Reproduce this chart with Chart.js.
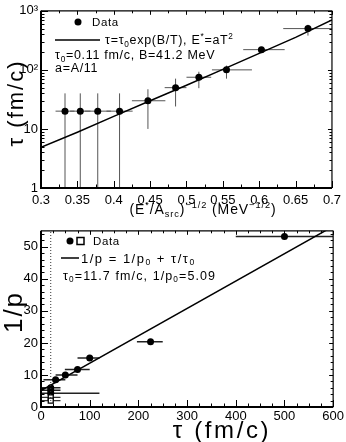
<!DOCTYPE html>
<html>
<head>
<meta charset="utf-8">
<script src="https://cdn.jsdelivr.net/npm/chart.js@4.4.1/dist/chart.umd.min.js"></script>
<style>
  html, body { margin: 0; padding: 0; background: #fff; }
  #wrap { position: relative; width: 346px; height: 442px; }
  #topChart { position: absolute; left: 0; top: 0; }
  #botChart { position: absolute; left: 0; top: 220px; }
</style>
</head>
<body>
<div id="wrap">
  <canvas id="topChart" width="346" height="220"></canvas>
  <canvas id="botChart" width="346" height="222"></canvas>
</div>
<script>
// ---- top panel: tau vs (E*/A)^-1/2 ----
const topX     = [0.333, 0.354, 0.378, 0.408, 0.447, 0.485, 0.517, 0.555, 0.603, 0.667];
const topTau   = [20, 20, 20, 20, 30, 50, 75, 100, 220, 500];
const topXLo   = [0.320, 0.340, 0.360, 0.390, 0.425, 0.470, 0.500, 0.535, 0.578, 0.633];
const topXHi   = [0.346, 0.368, 0.396, 0.426, 0.471, 0.500, 0.534, 0.590, 0.635, 0.700];
const topTauLo = [1, 1, 1, 1, 10, 24, 49, 71, 200, 380];
const topTauHi = [40, 40, 40, 40, 47, 71, 93, 118, 240, 580];
const fitTopX   = [0.30, 0.35, 0.40, 0.45, 0.50, 0.55, 0.60, 0.65, 0.70];
const fitTopTau = [4.9, 8.8, 16.3, 30, 55, 102, 190, 355, 700];
const topXTicks  = [0.3, 0.35, 0.4, 0.45, 0.5, 0.55, 0.6, 0.65, 0.7];
const topYTicks  = [1, 10, 100, 1000];
const topYLabels = ['1', '10', '10²', '10³'];

// ---- bottom panel: 1/p vs tau ----
const botTau    = [500, 225, 100, 75, 50, 30, 20, 20, 20];
const botInvP   = [53.2, 20.4, 15.3, 11.7, 10.0, 8.5, 6.0, 5.2, 4.3];
const botTauLo  = [400, 197, 75, 49, 30, 5, 0, 0, 0];
const botTauHi  = [600, 250, 120, 100, 75, 50, 40, 40, 120];
const openTau   = [20, 20];
const openInvP  = [3.0, 2.0];
const openTauLo = [0, 0];
const openTauHi = [40, 40];
const fitBotTau  = [0, 600];
const fitBotInvP = [5.09, 56.4];
const cutTau = 20;
const botXTicks = [0, 100, 200, 300, 400, 500, 600];
const botYTicks = [0, 10, 20, 30, 40, 50];

const FONT = 'Liberation Sans';

function pts(xs, ys) {
  return xs.map((x, i) => ({ x: x, y: ys[i] }));
}

// text with sub/superscripts, parts = [[text, 'n'|'sub'|'sup'], ...]
function richText(ctx, parts, x, y, size, align, spacing) {
  const sz = p => (p[1] === 'sub' || p[1] === 'sup') ? size * 0.66 : size;
  ctx.letterSpacing = (spacing || 0) + 'px';
  let total = 0;
  parts.forEach(p => {
    ctx.font = sz(p) + 'px "' + FONT + '"';
    total += ctx.measureText(p[0]).width;
  });
  let cx = align === 'center' ? x - total / 2 : x;
  ctx.textAlign = 'left';
  ctx.textBaseline = 'alphabetic';
  ctx.fillStyle = '#000';
  parts.forEach(p => {
    const dy = p[1] === 'sup' ? -size * 0.42 : p[1] === 'sub' ? size * 0.22 : 0;
    ctx.font = sz(p) + 'px "' + FONT + '"';
    ctx.fillText(p[0], cx, y + dy);
    cx += ctx.measureText(p[0]).width;
  });
  ctx.letterSpacing = '0px';
}

// frame with inward ticks on all four sides
const frame = {
  id: 'frame',
  afterDraw(chart, args, o) {
    const { ctx, chartArea: a, scales } = chart;
    ctx.save();
    ctx.strokeStyle = '#000';
    const hline = (x, y0, y1, w) => { ctx.lineWidth = w; ctx.beginPath(); ctx.moveTo(x, y0); ctx.lineTo(x, y1); ctx.stroke(); };
    const vline = (y, x0, x1, w) => { ctx.lineWidth = w; ctx.beginPath(); ctx.moveTo(x0, y); ctx.lineTo(x1, y); ctx.stroke(); };
    o.xMajor.forEach(v => {
      const px = Math.round(scales.x.getPixelForValue(v)) + 0.5;
      hline(px, a.bottom, a.bottom - 7, 1);
      hline(px, a.top, a.top + 4, 1);
    });
    o.xMinor.forEach(v => {
      const px = Math.round(scales.x.getPixelForValue(v)) + 0.5;
      hline(px, a.bottom, a.bottom - 3.5, 1);
      hline(px, a.top, a.top + 2.5, 1);
    });
    o.yMajor.forEach(v => {
      const py = Math.round(scales.y.getPixelForValue(v)) + 0.5;
      vline(py, a.left, a.left + 7, 1);
      vline(py, a.right, a.right - 4, 1);
    });
    o.yMinor.forEach(v => {
      const py = Math.round(scales.y.getPixelForValue(v)) + 0.5;
      vline(py, a.left, a.left + 3.5, 1);
      vline(py, a.right, a.right - 2.5, 1);
    });
    hline(a.left, a.top, a.bottom + 1, 2);
    vline(a.bottom, a.left - 1, a.right, 2);
    hline(a.right, a.top, a.bottom, 1.2);
    vline(a.top, a.left, a.right, 1.2);
    ctx.restore();
  }
};

// x/y error bars from dataset.xLo/xHi/yLo/yHi
const errBars = {
  id: 'errBars',
  beforeDatasetsDraw(chart) {
    const { ctx, chartArea: a, scales: { x, y } } = chart;
    ctx.save();
    ctx.beginPath();
    ctx.rect(a.left, a.top, a.width, a.height);
    ctx.clip();
    chart.data.datasets.forEach(ds => {
      if (!ds.xLo) return;
      ctx.strokeStyle = ds.errColor;
      ctx.lineWidth = ds.errWidth;
      ds.data.forEach((p, i) => {
        const px = x.getPixelForValue(p.x), py = y.getPixelForValue(p.y);
        ctx.beginPath();
        ctx.moveTo(x.getPixelForValue(ds.xLo[i]), py);
        ctx.lineTo(x.getPixelForValue(ds.xHi[i]), py);
        if (ds.yLo) {
          ctx.moveTo(px, y.getPixelForValue(ds.yLo[i]));
          ctx.lineTo(px, y.getPixelForValue(ds.yHi[i]));
        }
        ctx.stroke();
      });
    });
    ctx.restore();
  }
};

// legends and axis titles
const texts = {
  id: 'texts',
  afterDraw(chart, args, o) {
    const ctx = chart.ctx;
    ctx.save();
    o.draw(ctx);
    ctx.restore();
  }
};

function dot(ctx, x, y) {
  ctx.fillStyle = '#000';
  ctx.beginPath();
  ctx.arc(x, y, 3.5, 0, Math.PI * 2);
  ctx.fill();
}

function seg(ctx, x0, x1, y) {
  ctx.strokeStyle = '#000';
  ctx.lineWidth = 1.5;
  ctx.beginPath();
  ctx.moveTo(x0, y);
  ctx.lineTo(x1, y);
  ctx.stroke();
}

function rotated(ctx, parts, cx, cy, size, spacing) {
  ctx.save();
  ctx.translate(cx, cy);
  ctx.rotate(-Math.PI / 2);
  richText(ctx, parts, 0, size * 0.36, size, 'center', spacing);
  ctx.restore();
}

function drawTopTexts(ctx) {
  dot(ctx, 78, 22);
  richText(ctx, [['Data', 'n']], 92, 26, 11.5, 'left', 0.6);
  seg(ctx, 55, 100, 40);
  richText(ctx, [['τ=τ', 'n'], ['0', 'sub'], ['exp(B/T), E', 'n'], ['*', 'sup'], ['=aT', 'n'], ['2', 'sup']], 105, 44, 12.5, 'left', 0.7);
  richText(ctx, [['τ', 'n'], ['0', 'sub'], ['=0.11 fm/c, B=41.2 MeV', 'n']], 55, 59, 12.5, 'left', 0.7);
  richText(ctx, [['a=A/11', 'n']], 55, 72, 12.5, 'left', 0.7);
  richText(ctx, [['(E', 'n'], ['*', 'sup'], ['/A', 'n'], ['src', 'sub'], [')', 'n'], ['−1/2', 'sup'],
                 [' (MeV', 'n'], ['−1/2', 'sup'], [')', 'n']], 203, 214, 14, 'center', 0.9);
  rotated(ctx, [['τ (fm/c)', 'n']], 15, 103, 22, 2);
}

function drawBotTexts(ctx) {
  dot(ctx, 70, 21);
  ctx.strokeStyle = '#000';
  ctx.lineWidth = 1.5;
  ctx.strokeRect(77, 17.5, 7, 7);
  richText(ctx, [['Data', 'n']], 93, 25, 11.5, 'left', 0.6);
  seg(ctx, 61, 79, 38);
  richText(ctx, [['1/p = 1/p', 'n'], ['0', 'sub'], [' + τ/τ', 'n'], ['0', 'sub']], 81, 42.5, 13, 'left', 1.5);
  richText(ctx, [['τ', 'n'], ['0', 'sub'], ['=11.7 fm/c, 1/p', 'n'], ['0', 'sub'], ['=5.09', 'n']], 63, 59.5, 12.5, 'left', 1.1);
  richText(ctx, [['τ (fm/c)', 'n']], 222, 218, 24, 'center', 2.6);
  rotated(ctx, [['1/p', 'n']], 13, 92, 26, 2);
}

const tickFont = { family: FONT, size: 13 };

function fixedAxes(yWidth, xHeight) {
  return {
    yFit: s => { s.width = yWidth; },
    xFit: s => { s.height = xHeight; }
  };
}

// ---------- top chart ----------
const topMinorX = [];
for (let i = 0; i < topXTicks.length - 1; i++) topMinorX.push((topXTicks[i] + topXTicks[i + 1]) / 2);
const topMinorY = [];
for (let d = 1; d < 1000; d *= 10) for (let k = 2; k <= 9; k++) topMinorY.push(k * d);

const fitA = fixedAxes(41, 32);
new Chart(document.getElementById('topChart'), {
  type: 'scatter',
  data: {
    datasets: [
      {
        data: pts(fitTopX, fitTopTau),
        showLine: true, pointRadius: 0, borderColor: '#000', borderWidth: 1.5, tension: 0
      },
      {
        data: pts(topX, topTau),
        xLo: topXLo, xHi: topXHi, yLo: topTauLo, yHi: topTauHi,
        errColor: '#555', errWidth: 1,
        pointRadius: 3.5, pointBackgroundColor: '#000', pointBorderWidth: 0
      }
    ]
  },
  options: {
    responsive: false,
    animation: false,
    layout: { padding: { left: 0, top: 7, right: 11, bottom: 0 } },
    plugins: {
      legend: { display: false },
      tooltip: { enabled: false },
      frame: { xMajor: topXTicks, xMinor: topMinorX, yMajor: topYTicks, yMinor: topMinorY },
      texts: { draw: drawTopTexts }
    },
    scales: {
      x: {
        type: 'linear', min: 0.3, max: 0.7,
        afterBuildTicks: s => { s.ticks = topXTicks.map(v => ({ value: v })); },
        afterFit: fitA.xFit,
        grid: { display: false, drawTicks: false },
        border: { display: false },
        ticks: { font: tickFont, color: '#000', padding: 5, maxRotation: 0, autoSkip: false,
                 callback: v => String(+v.toFixed(2)) }
      },
      y: {
        type: 'logarithmic', min: 1, max: 1000,
        afterBuildTicks: s => { s.ticks = topYTicks.map(v => ({ value: v })); },
        afterFit: fitA.yFit,
        grid: { display: false, drawTicks: false },
        border: { display: false },
        ticks: { font: tickFont, color: '#000', padding: 3, autoSkip: false,
                 callback: v => topYLabels[topYTicks.indexOf(v)] }
      }
    }
  },
  plugins: [errBars, frame, texts]
});

// ---------- bottom chart ----------
const botMinorX = [];
for (let v = 25; v < 600; v += 25) if (v % 100) botMinorX.push(v);
const botMinorY = [];
for (let v = 2; v < 55; v += 2) if (v % 10) botMinorY.push(v);

const fitB = fixedAxes(41, 35);
new Chart(document.getElementById('botChart'), {
  type: 'scatter',
  data: {
    datasets: [
      {
        data: [{ x: cutTau, y: 0 }, { x: cutTau, y: 55 }],
        showLine: true, pointRadius: 0, borderColor: '#333', borderWidth: 1, borderDash: [1, 2]
      },
      {
        data: pts(fitBotTau, fitBotInvP),
        showLine: true, pointRadius: 0, borderColor: '#000', borderWidth: 1.5
      },
      {
        data: pts(openTau, openInvP),
        xLo: openTauLo, xHi: openTauHi,
        errColor: '#333', errWidth: 1.3,
        pointStyle: 'rect', pointRadius: 3.5, pointBackgroundColor: '#fff',
        pointBorderColor: '#000', pointBorderWidth: 1.3
      },
      {
        data: pts(botTau, botInvP),
        xLo: botTauLo, xHi: botTauHi,
        errColor: '#222', errWidth: 1.5,
        pointRadius: 3.5, pointBackgroundColor: '#000', pointBorderWidth: 0
      }
    ]
  },
  options: {
    responsive: false,
    animation: false,
    layout: { padding: { left: 0, top: 4, right: 11, bottom: 0 } },
    plugins: {
      legend: { display: false },
      tooltip: { enabled: false },
      frame: { xMajor: botXTicks, xMinor: botMinorX, yMajor: botYTicks, yMinor: botMinorY },
      texts: { draw: drawBotTexts }
    },
    scales: {
      x: {
        type: 'linear', min: 0, max: 600,
        afterBuildTicks: s => { s.ticks = botXTicks.map(v => ({ value: v })); },
        afterFit: fitB.xFit,
        grid: { display: false, drawTicks: false },
        border: { display: false },
        ticks: { font: tickFont, color: '#000', padding: 2, maxRotation: 0, autoSkip: false }
      },
      y: {
        type: 'linear', min: 0, max: 55,
        afterBuildTicks: s => { s.ticks = botYTicks.map(v => ({ value: v })); },
        afterFit: fitB.yFit,
        grid: { display: false, drawTicks: false },
        border: { display: false },
        ticks: { font: tickFont, color: '#000', padding: 3, autoSkip: false }
      }
    }
  },
  plugins: [errBars, frame, texts]
});
</script>
</body>
</html>
